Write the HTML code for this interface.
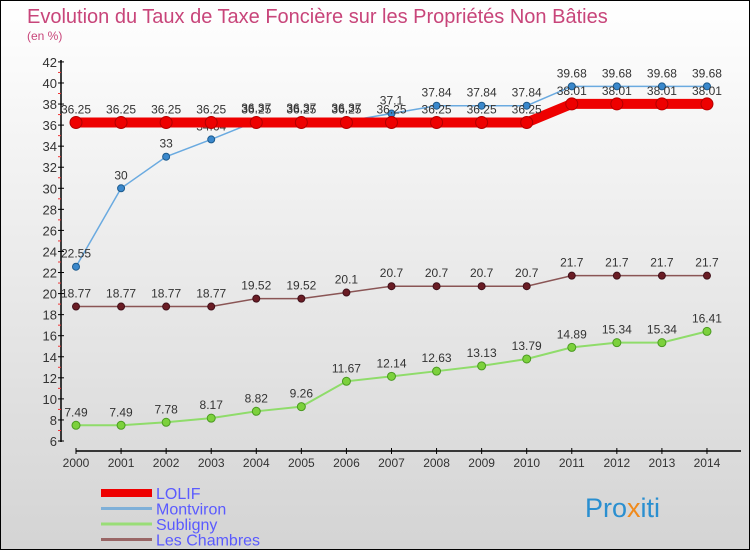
<!DOCTYPE html>
<html><head><meta charset="utf-8"><style>
html,body{margin:0;padding:0}
body{width:750px;height:550px;overflow:hidden;font-family:"Liberation Sans","DejaVu Sans",sans-serif}
#c{position:absolute;left:0;top:0;width:748px;height:548px;border:1px solid #000;background:linear-gradient(#ffffff,#d4d4d4)}
</style></head><body>
<div id="c">
<svg id="s" width="748" height="548" xmlns="http://www.w3.org/2000/svg">
<text x="26" y="22" font-size="20" fill="#c8457a">Evolution du Taux de Taxe Foncière sur les Propriétés Non Bâties</text>
<text x="26" y="39" font-size="12" fill="#c8457a">(en %)</text>
<g id="axes"></g><g id="series"></g><g id="legend"></g>
<text x="584" y="516" font-size="27" fill="#2a8fd0">Pro<tspan fill="#f08a1c">x</tspan>iti</text>
</svg></div>
<script>
const years=[2000,2001,2002,2003,2004,2005,2006,2007,2008,2009,2010,2011,2012,2013,2014];
const yTicks=[6,8,10,12,14,16,18,20,22,24,26,28,30,32,34,36,38,40,42];
const lolif=[36.25,36.25,36.25,36.25,36.25,36.25,36.25,36.25,36.25,36.25,36.25,38.01,38.01,38.01,38.01];
const montviron=[22.55,30,33,34.64,36.37,36.37,36.37,37.1,37.84,37.84,37.84,39.68,39.68,39.68,39.68];
const subligny=[7.49,7.49,7.78,8.17,8.82,9.26,11.67,12.14,12.63,13.13,13.79,14.89,15.34,15.34,16.41];
const chambres=[18.77,18.77,18.77,18.77,19.52,19.52,20.1,20.7,20.7,20.7,20.7,21.7,21.7,21.7,21.7];
const names=["LOLIF","Montviron","Subligny","Les Chambres"];
const NS="http://www.w3.org/2000/svg";
const X=i=>75+i*45.07;
const Y=v=>440-(v-6)*10.53;
function mk(tag,at,parent){const e=document.createElementNS(NS,tag);for(const k in at)e.setAttribute(k,at[k]);parent.appendChild(e);return e;}
const ax=document.getElementById('axes');
let l=mk('line',{x1:60,y1:59,x2:60,y2:441,stroke:'#000','stroke-width':1.5},ax);


yTicks.forEach((v,k)=>{
 const t=mk('line',{x1:57,y1:Y(v),x2:63,y2:Y(v),stroke:'#000'},ax);
 
 
 if(k<yTicks.length-1){
 const m=mk('line',{x1:57,y1:Y(v+1),x2:60,y2:Y(v+1),stroke:'#e33'},ax);
 
 
 }
 const tx=mk('text',{x:56,y:Y(v)+5,'font-size':13,fill:'#333','text-anchor':'end'},ax);tx.textContent=v;
 
 
});
l=mk('line',{x1:75,y1:450,x2:740,y2:450,stroke:'#000','stroke-width':1.5},ax);


years.forEach((yr,i)=>{
 const t=mk('line',{x1:X(i),y1:447,x2:X(i),y2:453,stroke:'#000'},ax);
 
 
 const tx=mk('text',{x:X(i),y:466,'font-size':12,fill:'#333','text-anchor':'middle'},ax);tx.textContent=yr;
 
 
});
const sg=document.getElementById('series');
function series(data,color,w,r,dot,stroke,name){
 const g=mk('g',{},sg);
 
 
 const p=mk('polyline',{points:data.map((v,i)=>X(i)+','+Y(v)).join(' '),fill:'none',stroke:color,'stroke-width':w},g);
 
 
 data.forEach((v,i)=>{
  const c=mk('circle',{cx:X(i),cy:Y(v),r:r,fill:dot,stroke:stroke,'stroke-width':1},g);
  
  
  const t=mk('text',{x:X(i),y:Y(v)-9,'font-size':12,fill:'#333','text-anchor':'middle'},g);t.textContent=v;
  
  
 });
}
series(subligny,'#8fdc6a',2,4,'#7cd13c','#4a9a20','subligny');
series(chambres,'#8a5555',1.5,3.5,'#6a1c24','#40101a','les-chambres');
series(montviron,'#6aaae0',1.5,3.5,'#3a88cc','#1d5a8c','montviron');
series(lolif,'#ee0000',10,6,'#ee0000','#b00000','lolif');
const lg=document.getElementById('legend');
const lc=[['#ee0000',8],['#7fb0d8',3],['#99dd77',3],['#996666',3]];
names.forEach((n,i)=>{
 const y=492+i*15.5;
 const ln=mk('line',{x1:100,y1:y,x2:151,y2:y,stroke:lc[i][0],'stroke-width':lc[i][1]},lg);
 
 
 const t=mk('text',{x:155,y:y+6,'font-size':16,fill:'#5a5aff'},lg);t.textContent=n;
 
 
});
</script>
</body></html>
